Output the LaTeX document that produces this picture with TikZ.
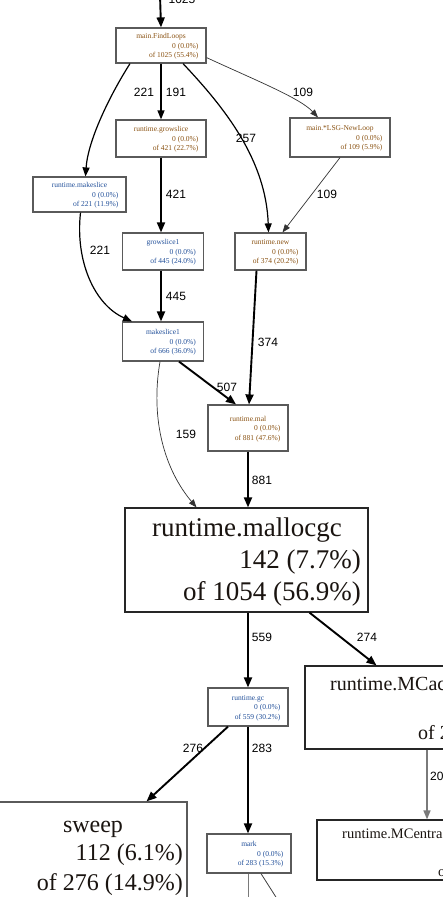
\documentclass[tikz,border=0pt]{standalone}
\usepackage{fontspec}
\setmainfont{Liberation Serif}
\newfontfamily\lblfont{Liberation Sans}
\usetikzlibrary{arrows.meta,calc}
\definecolor{boxgray}{HTML}{5A5A5A}
\definecolor{hot}{HTML}{8A5212}
\definecolor{cool}{HTML}{22509A}
\definecolor{bigtext}{HTML}{1A1410}
\definecolor{edgegray}{HTML}{7A7A7A}
\tikzset{
  box/.style={draw=boxgray, line width=1.2pt, inner sep=0pt, fill=white},
  st/.style={font=\fontsize{7.5}{9}\selectfont, inner sep=0pt},
  lbl/.style={font=\lblfont\fontsize{12}{14}\selectfont, inner sep=0pt},
  ethick/.style={-{Triangle[length=10pt,width=8pt]}, line width=1.9pt, black},
  emed/.style={-{Triangle[length=9pt,width=7pt]}, line width=1.2pt, black},
  ethin/.style={-{Triangle[length=8pt,width=6pt]}, line width=0.7pt, black!80},
  egray/.style={-{Triangle[length=9pt,width=7pt]}, line width=1.5pt, edgegray},
}
\newcommand\smallnode[9]{%
  \node[box, minimum width=#4pt, minimum height=#5pt] (#1) at (#2,#3) {};
  \node[st, text=#9, anchor=base] (#1-a) at ($(#1.center)+(0,-7)$) {#6};
  \node[st, text=#9, anchor=base east] (#1-b) at ($(#1.east)+(-8,2.5)$) {#7};
  \node[st, text=#9, anchor=base east] (#1-c) at ($(#1.east)+(-8,12)$) {#8};
}
\begin{document}
\begin{tikzpicture}[x=1pt,y=-1pt]
\useasboundingbox (0,0) rectangle (443,897);
\clip (0,0) rectangle (443,897);
\fill[white] (0,0) rectangle (443,897);

% small nodes
\smallnode{findloops}{161}{45.5}{90}{35}{main.FindLoops}{0 (0.0\%)}{of 1025 (55.4\%)}{hot}
\smallnode{growslice}{161}{138.5}{90}{37}{runtime.growslice}{0 (0.0\%)}{of 421 (22.7\%)}{hot}
\smallnode{lsg}{340}{137.5}{100}{39}{main.*LSG-NewLoop}{0 (0.0\%)}{of 109 (5.9\%)}{hot}
\smallnode{makeslice}{79.5}{194.5}{93}{35}{runtime.makeslice}{0 (0.0\%)}{of 221 (11.9\%)}{cool}
\smallnode{growslicea}{163}{251.5}{81}{37}{growslice1}{0 (0.0\%)}{of 445 (24.0\%)}{cool}
\smallnode{rnew}{270.5}{251.5}{71}{37}{runtime.new}{0 (0.0\%)}{of 374 (20.2\%)}{hot}
\smallnode{makeslicea}{163}{341.5}{81}{39}{makeslice1}{0 (0.0\%)}{of 666 (36.0\%)}{cool}
\smallnode{mal}{248}{428}{80}{46}{runtime.mal}{0 (0.0\%)}{of 881 (47.6\%)}{hot}
\smallnode{gc}{248}{707}{80}{38}{runtime.gc}{0 (0.0\%)}{of 559 (30.2\%)}{cool}
\smallnode{mark}{249}{853.5}{84}{39}{mark}{0 (0.0\%)}{of 283 (15.3\%)}{cool}

% big nodes
\node[box, draw=black!85, minimum width=243pt, minimum height=104pt] (mallocgc) at (246.5,560) {};
\node[font=\fontsize{27}{30}\selectfont, inner sep=0pt, text=bigtext, anchor=base] (mallocgc-a) at (247,536) {runtime.mallocgc};
\node[font=\fontsize{27}{30}\selectfont, inner sep=0pt, text=bigtext, anchor=base east] (mallocgc-b) at (361,568) {142 (7.7\%)};
\node[font=\fontsize{27}{30}\selectfont, inner sep=0pt, text=bigtext, anchor=base east] (mallocgc-c) at (361,600) {of 1054 (56.9\%)};

\node[box, draw=black!85, minimum width=155pt, minimum height=83pt] (mcache) at (382.5,707.5) {};
\node[font=\fontsize{20}{24}\selectfont, inner sep=0pt, text=bigtext, anchor=base west] (mcache-a) at (330,690) {runtime.MCac};
\node[font=\fontsize{20}{24}\selectfont, inner sep=0pt, text=bigtext, anchor=base west] (mcache-c) at (418,739) {of 2};

\node[box, draw=black!85, minimum width=143pt, minimum height=60pt] (mcentral) at (388.5,850) {};
\node[font=\fontsize{14.5}{17}\selectfont, inner sep=0pt, text=bigtext, anchor=base west] (mcentral-a) at (342,838) {runtime.MCentra};
\node[font=\fontsize{14.5}{17}\selectfont, inner sep=0pt, text=bigtext, anchor=base west] (mcentral-c) at (438,876) {of};

\node[box, draw=boxgray, minimum width=197pt, minimum height=108pt] (sweep) at (88.5,856) {};
\node[font=\fontsize{24}{28}\selectfont, inner sep=0pt, text=bigtext, anchor=base] (sweep-a) at (93,832) {sweep};
\node[font=\fontsize{24}{28}\selectfont, inner sep=0pt, text=bigtext, anchor=base east] (sweep-b) at (183,860) {112 (6.1\%)};
\node[font=\fontsize{24}{28}\selectfont, inner sep=0pt, text=bigtext, anchor=base east] (sweep-c) at (183,890) {of 276 (14.9\%)};

% edges
\coordinate (top) at (160,-5);
\draw[ethick] (top) -- (findloops.north);
\node[lbl] (l1025) at (182,-1) {1025};

\draw[emed] ([xshift=-31pt]findloops.south) .. controls (110,95) and (88,140) .. ([xshift=6pt]makeslice.north);
\node[lbl] (l221a) at (144,92) {221};

\draw[emed] (findloops.south) -- (growslice.north);
\node[lbl] (l191) at (176,92) {191};

\draw[emed] ([xshift=22pt]findloops.south) .. controls (225,108) and (266,160) .. ([xshift=-2pt]rnew.north);
\node[lbl] (l257) at (246,138) {257};

\draw[ethin] ([yshift=6pt]findloops.south east) .. controls (255,80) and (300,98) .. ([xshift=-22pt]lsg.north);
\node[lbl] (l109a) at (303,92) {109};

\draw[ethin] (lsg.south) -- ([xshift=12pt]rnew.north);
\node[lbl] (l109b) at (327,194) {109};

\draw[ethick] (growslice.south) -- (growslice.south |- growslicea.north);
\node[lbl] (l421) at (176,194) {421};

\draw[emed] ([xshift=1pt]makeslice.south) .. controls (75,262) and (95,305) .. ([xshift=-31pt]makeslicea.north);
\node[lbl] (l221b) at (100,250) {221};

\draw[ethick] (growslice.south |- growslicea.south) -- (growslice.south |- makeslicea.north);
\node[lbl] (l445) at (176,296) {445};

\draw[ethick] ([xshift=-14pt]rnew.south) -- ([xshift=1pt]mal.north);
\node[lbl] (l374) at (268,342) {374};

\draw[ethick] ([xshift=16pt]makeslicea.south) -- ([xshift=-12pt]mal.north);
\node[lbl] (l507) at (227,387) {507};

\draw[ethin] ([xshift=-3pt]makeslicea.south) .. controls (150,420) and (165,470) .. ([xshift=-50pt]mallocgc.north);
\node[lbl] (l159) at (186,434) {159};

\draw[ethick] (mal.south) -- (mal.south |- mallocgc.north);
\node[lbl] (l881) at (262,480) {881};

\draw[ethick] (mal.south |- mallocgc.south) -- (gc.north);
\node[lbl] (l559) at (262,637) {559};

\draw[ethick] ([xshift=63pt]mallocgc.south) -- ([xshift=-6pt]mcache.north);
\node[lbl] (l274) at (367,637) {274};

\draw[ethick] ([xshift=-20pt]gc.south) -- ([xshift=58pt]sweep.north);
\node[lbl] (l276) at (193,748) {276};

\draw[ethick] (gc.south) -- (gc.south |- mark.north);
\node[lbl] (l283) at (262,748) {283};

\draw[egray] ([xshift=44.5pt]mcache.south) -- ([xshift=38.5pt]mcentral.north);
\node[lbl, anchor=west] (l20) at (430,776) {20};

\coordinate (markout1) at (248,905);
\coordinate (markout2) at (281,905);
\draw[line width=1pt, edgegray] ([xshift=-1pt]mark.south) -- (markout1);
\draw[line width=0.8pt, black!75] ([xshift=12pt]mark.south) -- (markout2);
\end{tikzpicture}
\end{document}
